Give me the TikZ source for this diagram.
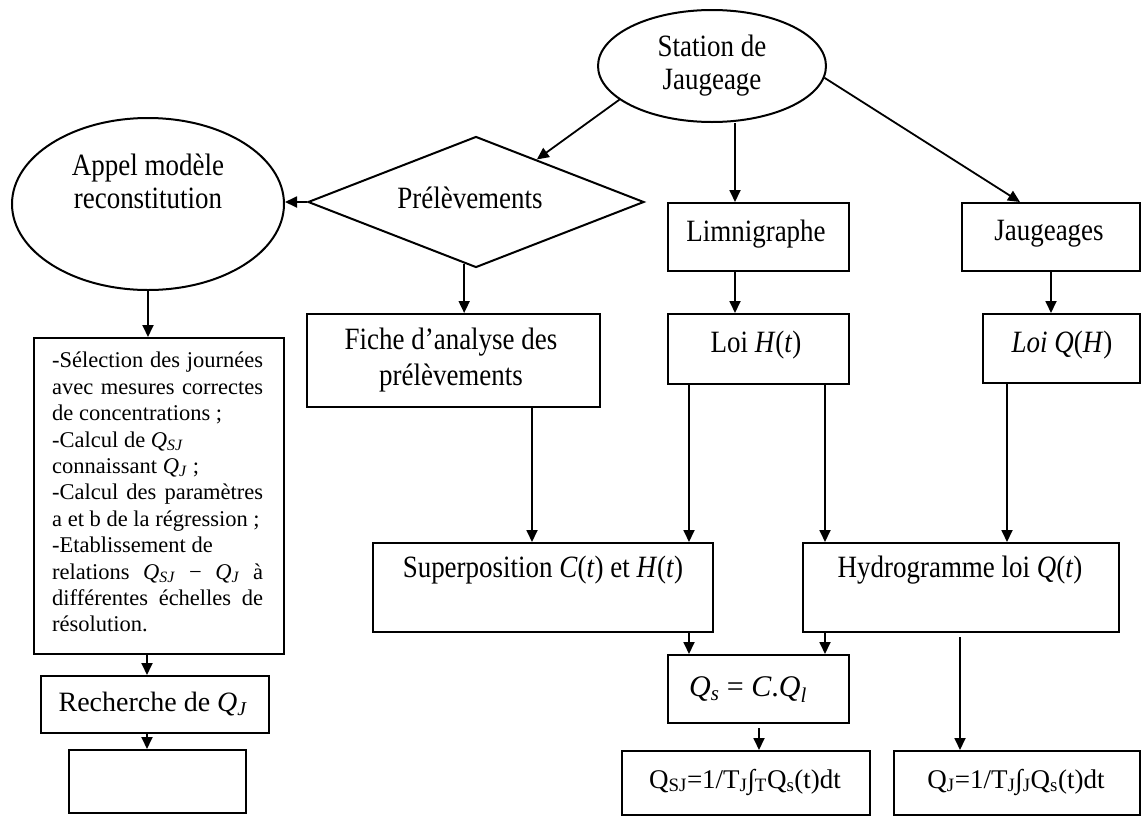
\documentclass[tikz,border=0pt]{standalone}
\usepackage{fontspec}
\setmainfont{Liberation Serif}
\newfontfamily\condfont{Liberation Serif}[FakeStretch=0.87]
\usetikzlibrary{shapes.geometric,arrows.meta,calc}
\newcommand{\mi}[1]{\textit{#1}}
\begin{document}
\begin{tikzpicture}[x=1pt,y=-1pt,
  every node/.style={inner sep=0pt},
  shp/.style={draw,line width=2pt},
  boxn/.style={shp,rectangle,anchor=north west},
  lbl/.style={font=\condfont\fontsize{31}{33}\selectfont,align=center},
  nlbl/.style={font=\fontsize{27}{30}\selectfont,align=center},
  arr/.style={line width=1.8pt,-{Triangle[length=12pt,width=11pt]}},
]
\useasboundingbox (0,0) rectangle (1141,817);

% shapes
\node[shp,ellipse,minimum width=228pt,minimum height=112pt] (station) at (712,66) {};
\node[shp,ellipse,minimum width=272pt,minimum height=172pt] (appel) at (148,204) {};
\node[shp,diamond,minimum width=336pt,minimum height=131pt] (prel) at (476,202) {};
\node[boxn,minimum width=181pt,minimum height=68pt] (limni) at (667,202) {};
\node[boxn,minimum width=178pt,minimum height=68pt] (jaug) at (961,202) {};
\node[boxn,minimum width=293pt,minimum height=93pt] (fiche) at (306,313) {};
\node[boxn,minimum width=181pt,minimum height=70pt] (loih) at (667,313) {};
\node[boxn,minimum width=157pt,minimum height=69pt] (loiq) at (982,313) {};
\node[boxn,minimum width=250pt,minimum height=316pt] (lbox) at (33,337) {};
\node[boxn,minimum width=340pt,minimum height=89pt] (super) at (372,542) {};
\node[boxn,minimum width=316pt,minimum height=89pt] (hydro) at (802,542) {};
\node[boxn,minimum width=181pt,minimum height=68pt] (qs) at (667,654) {};
\node[boxn,minimum width=248pt,minimum height=64pt] (qsj) at (621,750) {};
\node[boxn,minimum width=246pt,minimum height=64pt] (qj) at (893,750) {};
\node[boxn,minimum width=228pt,minimum height=57pt] (rech) at (40,675) {};
\node[boxn,minimum width=177pt,minimum height=63pt] (empty) at (68,749) {};

% texts
\node[lbl] (stationt) at (712,66) {Station de\\Jaugeage};
\node[lbl] (appelt) at (148,181) {Appel modèle\\reconstitution};
\node[lbl] (prelt) at (470,198) {Prélèvements};
\node[lbl] (limnit) at (756,234) {Limnigraphe};
\node[lbl] (jaugt) at (1049,234) {Jaugeages};
\node[lbl,font=\condfont\fontsize{31}{36}\selectfont] (fichet) at (451,360) {Fiche d’analyse des\\prélèvements};
\node[lbl] (loiht) at (756,345) {Loi \mi{H}(\mi{t})};
\node[lbl] (loiqt) at (1062,345) {\mi{Loi Q}(\mi{H})};
\node[lbl] (supert) at (543,570) {Superposition \mi{C}(\mi{t}) et \mi{H}(\mi{t})};
\node[lbl] (hydrot) at (960,570) {Hydrogramme loi \mi{Q}(\mi{t})};
\node[nlbl,font=\fontsize{30}{32}\selectfont] (qst) at (748,690) {\mi{Q}\textsubscript{\mi{s}} = \mi{C}.\mi{Q}\textsubscript{\mi{l}}};
\node[nlbl] (qsjt) at (745,782) {Q\textsubscript{SJ}=1/T\textsubscript{J}∫\textsubscript{T}Q\textsubscript{s}(t)dt};
\node[nlbl] (qjt) at (1016,782) {Q\textsubscript{J}=1/T\textsubscript{J}∫\textsubscript{J}Q\textsubscript{s}(t)dt};
\node[lbl,font=\fontsize{28}{30}\selectfont] (recht) at (153,704) {Recherche de \mi{Q}\textsubscript{\mi{J}}};
\node[font=\fontsize{22.5}{26.4}\selectfont,text width=211pt,align=justify,anchor=north west] (lboxt) at (52,352)
{-Sélection des journées\linebreak avec mesures correctes\linebreak de concentrations ;\newline
-Calcul de \mi{Q}\textsubscript{\mi{SJ}}\newline
connaissant \mi{Q}\textsubscript{\mi{J}} ;\newline
-Calcul des paramètres\linebreak a et b de la régression ;\newline
-Etablissement de\newline
relations \mi{Q}\textsubscript{\mi{SJ}} − \mi{Q}\textsubscript{\mi{J}} à\linebreak différentes échelles de\linebreak résolution.};

% helper coordinates
\coordinate (xa) at (735,0);
\coordinate (xb) at (1051,0);
\coordinate (xc) at (532,0);
\coordinate (xd) at (689,0);
\coordinate (xe) at (825,0);
\coordinate (xf) at (1007,0);
\coordinate (xl) at (147,0);
\coordinate (pf) at ($(prel.south)!0.07!(prel.west)$);
\coordinate (qsout) at (759,728);
\coordinate (hyout) at (960,637);

% connectors
\draw[arr] (station.200) -- ($(prel.north)!0.36!(prel.east)$);
\draw[arr] (station.south -| xa) -- (limni.north -| xa);
\draw[arr] (station.354) -- ($(jaug.north west)+(59,0)$);
\draw[arr] (prel.west) -- (prel.west -| appel.east);
\draw[arr] (pf) -- (pf |- fiche.north);
\draw[arr] (appel.south) -- (appel.south |- lbox.north);
\draw[arr] (limni.south -| xa) -- (loih.north -| xa);
\draw[arr] (jaug.south -| xb) -- (loiq.north -| xb);
\draw[arr] (fiche.south -| xc) -- (super.north -| xc);
\draw[arr] (loih.south -| xd) -- (super.north -| xd);
\draw[arr] (loih.south -| xe) -- (hydro.north -| xe);
\draw[arr] (loiq.south -| xf) -- (hydro.north -| xf);
\draw[arr] (super.south -| xd) -- (qs.north -| xd);
\draw[arr] (hydro.south -| xe) -- (qs.north -| xe);
\draw[arr] (qsout) -- (qsj.north -| qsout);
\draw[arr] (hyout) -- (qj.north -| hyout);
\draw[arr] (lbox.south -| xl) -- (rech.north -| xl);
\draw[arr] (rech.south -| xl) -- (empty.north -| xl);
\end{tikzpicture}
\end{document}
